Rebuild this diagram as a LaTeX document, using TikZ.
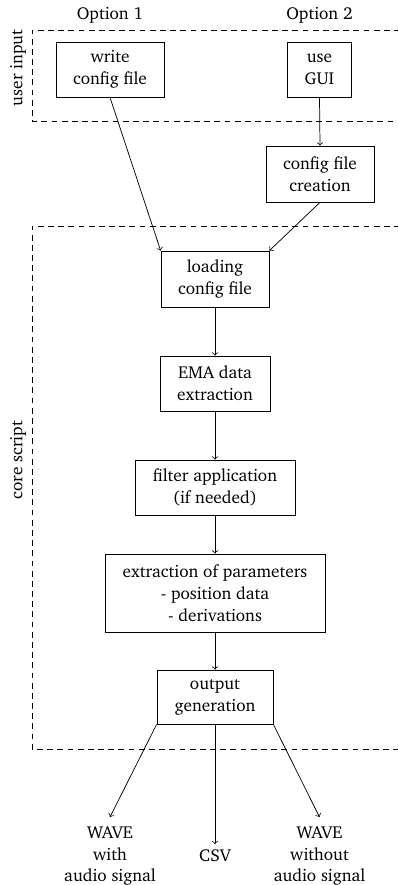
\documentclass[tikz,border=0pt]{standalone}
\usepackage[T1]{fontenc}
\usepackage{charter}
\usetikzlibrary{arrows}
\begin{document}
\begin{tikzpicture}[x=0.55pt,y=-0.55pt,
  box/.style={draw, inner sep=0pt, align=center, font=\fontsize{9.5}{12}\selectfont},
  lbl/.style={inner sep=0pt, align=center, font=\fontsize{9.5}{12}\selectfont},
  grp/.style={draw, dashed, dash pattern=on 3.2pt off 2.4pt},
  arr/.style={->, >=to}]
\useasboundingbox (0,0) rectangle (397,885);
% groups
\draw[grp] (400,30) -- (32,30) -- (32,121) -- (400,121);
\draw[grp] (400,226) -- (32,226) -- (32,749) -- (400,749);
\node[lbl, rotate=90] (ui) at (18,68) {user input};
\node[lbl, rotate=90] (cs) at (18,460) {core script};
\node[lbl] (o1) at (110,15.5) {Option 1};
\node[lbl] (o2) at (319.5,15.5) {Option 2};
% boxes
\node[box, minimum width=59.4pt, minimum height=30.3pt] (write) at (110,69.5) {write\\config file};
\node[box, minimum width=35.2pt, minimum height=30.3pt] (gui) at (319.5,69.5) {use\\GUI};
\node[box, minimum width=59.4pt, minimum height=30.8pt] (create) at (320,174) {config file\\creation};
\node[box, minimum width=59.4pt, minimum height=30.8pt] (load) at (215,279) {loading\\config file};
\node[box, minimum width=60.5pt, minimum height=30.3pt] (ema) at (215,383.5) {EMA data\\extraction};
\node[box, minimum width=88pt, minimum height=30.3pt] (filter) at (215,487.5) {filter application\\(if needed)};
\node[box, minimum width=121pt, minimum height=42.9pt] (extract) at (215,593) {extraction of parameters\\- position data\\- derivations};
\node[box, minimum width=63.8pt, minimum height=29.7pt] (output) at (215,697) {output\\generation};
% outputs
\node[lbl, inner ysep=5pt] (wav1) at (110,856) {WAVE\\with\\audio signal};
\node[lbl, inner ysep=3pt] (csv) at (215,856) {CSV};
\node[lbl, inner ysep=5pt] (wav2) at (319.5,856) {WAVE\\without\\audio signal};
% connectors
\draw[arr] (write.south) -- (load.north west);
\draw[arr] (gui.south) -- (create.north);
\draw[arr] (create.south) -- (load.north east);
\draw[arr] (load) -- (ema);
\draw[arr] (ema) -- (filter);
\draw[arr] (filter) -- (extract);
\draw[arr] (extract) -- (output);
\draw[arr] (output.south west) -- (wav1.north);
\draw[arr] (output.south) -- (csv.north);
\draw[arr] (output.south east) -- (wav2.north);
\end{tikzpicture}
\end{document}
